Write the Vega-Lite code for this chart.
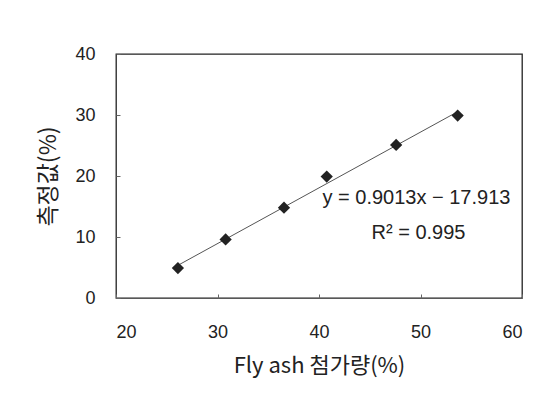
{
  "$schema": "https://vega.github.io/schema/vega-lite/v6.json",
  "autosize": {"type": "none"},
  "padding": {"left": 116, "top": 54, "right": 31, "bottom": 114},
  "width": 406,
  "height": 244,
  "background": "white",
  "config": {
    "view": {"stroke": "#222", "strokeWidth": 1.3},
    "font": "Liberation Sans"
  },
  "data": {
    "values": [
      {"x": 26.1, "y": 4.9},
      {"x": 30.8, "y": 9.6},
      {"x": 36.55, "y": 14.8},
      {"x": 40.76, "y": 19.9},
      {"x": 47.6, "y": 25.1},
      {"x": 53.66, "y": 29.9}
    ]
  },
  "layer": [
    {
      "transform": [{"regression": "y", "on": "x", "method": "linear", "extent": [26.1, 53.66]}],
      "mark": {"type": "line", "color": "#555", "strokeWidth": 1},
      "encoding": {
        "x": {"field": "x", "type": "quantitative"},
        "y": {"field": "y", "type": "quantitative"}
      }
    },
    {
      "mark": {"type": "point", "shape": "diamond", "filled": true, "color": "#222", "size": 150, "opacity": 1},
      "encoding": {
        "x": {
          "field": "x", "type": "quantitative",
          "scale": {"domain": [20, 60], "nice": false, "zero": false},
          "axis": {
            "values": [20, 30, 40, 50, 60],
            "grid": false, "domain": false,
            "tickSize": -4, "tickColor": "#666",
            "labelPadding": 29, "labelFontSize": 18, "labelColor": "#222",
            "title": "Fly ash 첨가량(%)", "titleFontSize": 22, "titleFontWeight": "normal",
            "titleColor": "#222", "titlePadding": 14, "titleFont": "Noto Sans CJK KR"
          }
        },
        "y": {
          "field": "y", "type": "quantitative",
          "scale": {"domain": [0, 40], "nice": false},
          "axis": {
            "values": [0, 10, 20, 30, 40],
            "grid": false, "domain": false,
            "tickSize": -4, "tickColor": "#666",
            "labelPadding": 25, "labelFontSize": 18, "labelColor": "#222",
            "title": "측정값(%)", "titleFontSize": 23, "titleFontWeight": "normal",
            "titleColor": "#222", "titlePadding": 14, "titleFont": "Noto Sans CJK KR"
          }
        }
      }
    },
    {
      "data": {"values": [{"label": "y = 0.9013x − 17.913", "lx": 49.6, "ly": 16.4}, {"label": "R² = 0.995", "lx": 49.8, "ly": 10.6}]},
      "mark": {"type": "text", "fontSize": 20, "fill": "#222", "align": "center", "baseline": "middle"},
      "encoding": {
        "x": {"field": "lx", "type": "quantitative"},
        "y": {"field": "ly", "type": "quantitative"},
        "text": {"field": "label"}
      }
    }
  ]
}
